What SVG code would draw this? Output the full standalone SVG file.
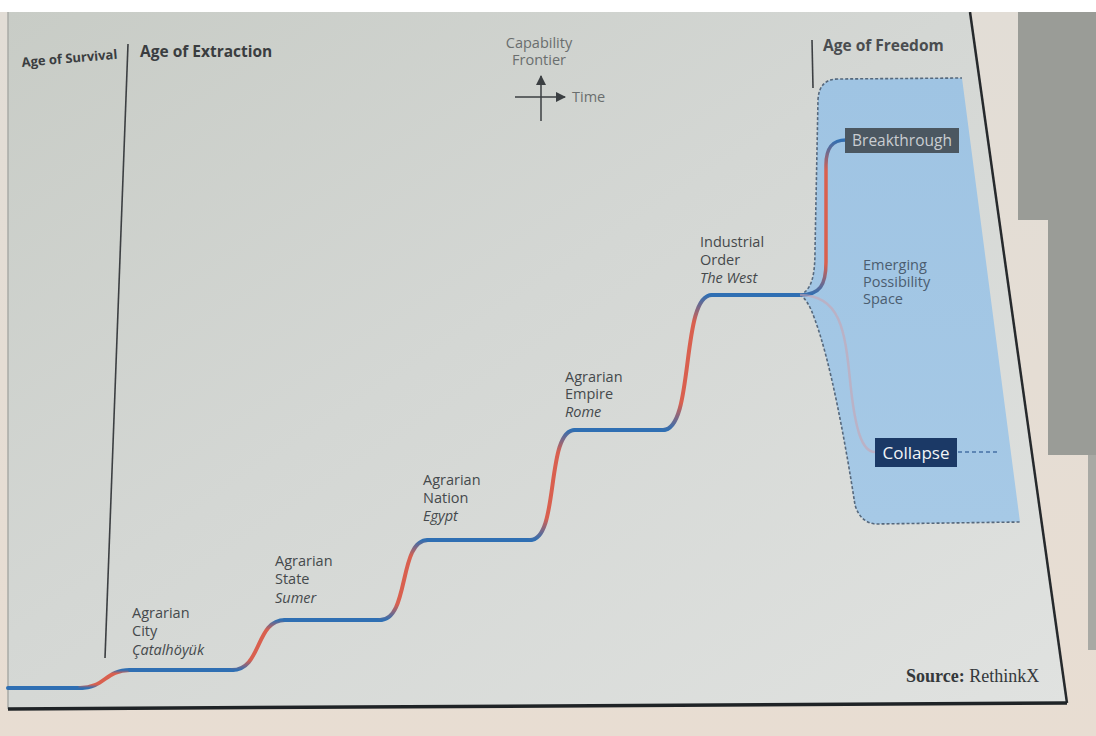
<svg xmlns="http://www.w3.org/2000/svg" width="1096" height="736" viewBox="0 0 1096 736">
<defs>
<linearGradient id="paper" x1="0" y1="0" x2="1" y2="1">
<stop offset="0" stop-color="#c8ccc6"/>
<stop offset="0.45" stop-color="#d4d7d4"/>
<stop offset="1" stop-color="#e0e2e0"/>
</linearGradient>
<linearGradient id="beige" x1="0" y1="0" x2="0" y2="1">
<stop offset="0" stop-color="#e2ddd6"/>
<stop offset="1" stop-color="#e8ddd2"/>
</linearGradient>
<linearGradient id="rise" x1="0" y1="0" x2="0" y2="1">
<stop offset="0" stop-color="#2f6fb3"/>
<stop offset="0.2" stop-color="#d9604f"/>
<stop offset="0.8" stop-color="#d9604f"/>
<stop offset="1" stop-color="#2f6fb3"/>
</linearGradient>
<linearGradient id="space" x1="0" y1="0" x2="0" y2="1">
<stop offset="0" stop-color="#9fc4e3"/>
<stop offset="1" stop-color="#a6c9e6"/>
</linearGradient>
<marker id="ah" viewBox="0 0 10 10" refX="9" refY="5" markerWidth="7" markerHeight="7" orient="auto-start-reverse">
<path d="M0,0 L10,5 L0,10 z" fill="#3b3f42"/>
</marker>
<style>
.lbl{font-family:"Open Sans","Liberation Sans",sans-serif;font-size:14.5px;fill:#45494c}
.it{font-style:italic}
.age{font-family:"Open Sans","Liberation Sans",sans-serif;font-weight:bold;font-size:15.5px;fill:#3a3d40}
.cap{font-family:"Open Sans","Liberation Sans",sans-serif;font-size:14.5px;fill:#6a6e6e}
.flat{fill:none;stroke:#2f6fb3;stroke-width:4;stroke-linecap:round}
.up{fill:none;stroke:url(#rise);stroke-width:4;stroke-linecap:round}
.div{stroke:#3c3f42;stroke-width:1.6;fill:none}
</style>
</defs>

<!-- background / photo surroundings -->
<rect x="0" y="0" width="1096" height="736" fill="#f3f1ee"/>
<rect x="0" y="12" width="1096" height="724" fill="url(#beige)"/>
<polygon points="1018,12 1096,12 1096,455 1048,455 1048,220 1018,220" fill="#9a9c97"/>
<polygon points="1088,455 1096,455 1096,650 1088,650" fill="#a8a9a4"/>
<polygon points="8,12 970,12 1067,703 8,709" fill="url(#paper)"/>
<line x1="8" y1="12" x2="8" y2="709" stroke="#a8aaa6" stroke-width="1.5"/>
<line x1="970" y1="12" x2="1067" y2="703" stroke="#26292c" stroke-width="2.5"/>
<line x1="8" y1="709" x2="1067" y2="703" stroke="#1f2326" stroke-width="3.5"/>
<rect x="0" y="0" width="1096" height="12" fill="#ffffff"/>

<!-- era headers -->
<g id="age-survival">
<text class="age" x="22" y="67" style="font-size:13px" transform="rotate(-5 22 67)">Age of Survival</text>
</g>
<g id="age-extraction">
<line class="div" x1="128" y1="44" x2="105" y2="658"/>
<text class="age" x="140" y="57">Age of Extraction</text>
</g>
<g id="age-freedom">
<line class="div" x1="812" y1="40" x2="813" y2="88"/>
<text class="age" x="823" y="51" style="fill:#4a4d50">Age of Freedom</text>
</g>

<!-- legend -->
<g id="legend">
<text class="cap" x="539" y="48" text-anchor="middle">Capability</text>
<text class="cap" x="539" y="65" text-anchor="middle">Frontier</text>
<line x1="541" y1="121" x2="541" y2="76" stroke="#3b3f42" stroke-width="1.5" marker-end="url(#ah)"/>
<line x1="515" y1="97" x2="565" y2="97" stroke="#3b3f42" stroke-width="1.5" marker-end="url(#ah)"/>
<text class="cap" x="572" y="102">Time</text>
</g>

<!-- possibility space -->
<g id="possibility-space">
<path d="M800,295 C812,290 815,275 815,250 L818,100 Q819,79 838,79 L962,78 L1020,522 L875,524 Q860,522 855,505 C845,440 830,360 815,320 C810,305 805,298 800,295 Z" fill="url(#space)"/>
<path d="M800,295 C812,290 815,275 815,250 L818,100 Q819,79 838,79 L962,78" fill="none" stroke="#56687c" stroke-width="1.6" stroke-dasharray="3 2"/>
<path d="M800,295 C805,298 810,305 815,320 C830,360 845,440 855,505 Q860,522 875,524 L1020,522" fill="none" stroke="#56687c" stroke-width="1.6" stroke-dasharray="3 2"/>
<text class="lbl" x="863" y="270" style="fill:#4b5d70">Emerging</text>
<text class="lbl" x="863" y="287" style="fill:#4b5d70">Possibility</text>
<text class="lbl" x="863" y="304" style="fill:#4b5d70">Space</text>
</g>

<!-- connectors -->
<g id="connectors">
<path class="flat" d="M8,688 L82,688"/>
<path class="up" d="M80,688 C105,688 105,670 130,670"/>
<path class="flat" d="M130,670 L233,670"/>
<path class="up" d="M232,670 C262,670 255,620 285,620"/>
<path class="flat" d="M285,620 L381,620"/>
<path class="up" d="M380,620 C410,620 398,540 428,540"/>
<path class="flat" d="M428,540 L531,540"/>
<path class="up" d="M530,540 C560,540 545,430 575,430"/>
<path class="flat" d="M575,430 L664,430"/>
<path class="up" d="M663,430 C695,430 680,295 712,295"/>
<path class="flat" d="M712,295 L800,295"/>
<path d="M800,295 C820,295 826,285 826,262 L826,165 C826,148 832,140 846,140" fill="none" stroke="url(#rise)" stroke-width="3.5" stroke-linecap="round"/>
<path d="M800,295 C840,295 845,330 850,380 C855,430 862,452 875,452" fill="none" stroke="#c9a3b0" stroke-width="2.5" opacity="0.6"/>
<line x1="958" y1="452" x2="1000" y2="452" stroke="#5d86b5" stroke-width="2" stroke-dasharray="4 3"/>
</g>

<!-- step nodes -->
<g id="agrarian-city">
<text class="lbl" x="132" y="618">Agrarian</text>
<text class="lbl" x="132" y="636">City</text>
<text class="lbl it" x="132" y="655">Çatalhöyük</text>
</g>
<g id="agrarian-state">
<text class="lbl" x="275" y="566">Agrarian</text>
<text class="lbl" x="275" y="584">State</text>
<text class="lbl it" x="275" y="603">Sumer</text>
</g>
<g id="agrarian-nation">
<text class="lbl" x="423" y="485">Agrarian</text>
<text class="lbl" x="423" y="503">Nation</text>
<text class="lbl it" x="423" y="521">Egypt</text>
</g>
<g id="agrarian-empire">
<text class="lbl" x="565" y="382">Agrarian</text>
<text class="lbl" x="565" y="399">Empire</text>
<text class="lbl it" x="565" y="417">Rome</text>
</g>
<g id="industrial-order">
<text class="lbl" x="700" y="247">Industrial</text>
<text class="lbl" x="700" y="265">Order</text>
<text class="lbl it" x="700" y="283">The West</text>
</g>

<!-- outcomes -->
<g id="breakthrough">
<rect x="845" y="128" width="114" height="25" fill="#4b5761"/>
<text x="902" y="146" text-anchor="middle" font-family="Open Sans, Liberation Sans, sans-serif" font-size="15.5" fill="#c9cdd1">Breakthrough</text>
</g>
<g id="collapse">
<rect x="875" y="438" width="82" height="29" fill="#1b3966"/>
<text x="916" y="459" text-anchor="middle" font-family="Open Sans, Liberation Sans, sans-serif" font-size="17" fill="#f2f4f6">Collapse</text>
</g>

<!-- source -->
<g id="source">
<text x="906" y="682" font-family="Liberation Serif, serif" font-size="18" fill="#34383b"><tspan font-weight="bold">Source:</tspan> RethinkX</text>
</g>
</svg>
